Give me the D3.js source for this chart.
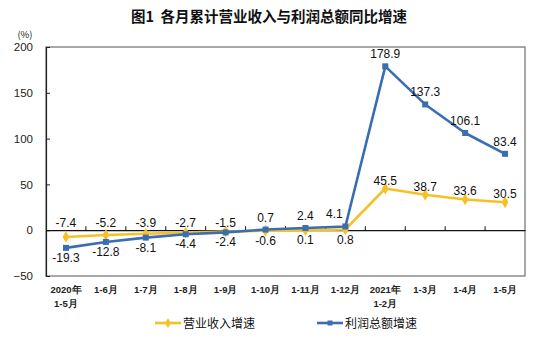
<!DOCTYPE html>
<html>
<head>
<meta charset="utf-8">
<script src="https://cdn.jsdelivr.net/npm/d3@7"></script>
<style>
  html, body { margin: 0; padding: 0; background: #fff; }
  svg { display: block; }
  text { font-family: "Liberation Sans", Arial, sans-serif; }
  .cjk { font-family: "Noto Sans CJK SC", "Noto Sans", sans-serif; }
</style>
</head>
<body>
<svg id="chart" width="539" height="340"></svg>
<script>
// Cumulative monthly growth, year on year (%)
const categories = [
  ["2020年", "1-5月"], ["1-6月"], ["1-7月"], ["1-8月"], ["1-9月"], ["1-10月"],
  ["1-11月"], ["1-12月"], ["2021年", "1-2月"], ["1-3月"], ["1-4月"], ["1-5月"]
];
const revenueGrowth = [-7.4, -5.2, -3.9, -2.7, -1.5, -0.6, 0.1, 0.8, 45.5, 38.7, 33.6, 30.5];
const profitGrowth  = [-19.3, -12.8, -8.1, -4.4, -2.4, 0.7, 2.4, 4.1, 178.9, 137.3, 106.1, 83.4];
const yTicks = [-50, 0, 50, 100, 150, 200];
const seriesNames = ["营业收入增速", "利润总额增速"];

const svg = d3.select("#chart");
const plot = { left: 46, right: 525, top: 47, bottom: 276 };

const x = d3.scaleBand()
  .domain(d3.range(categories.length))
  .range([plot.left, plot.right])
  .paddingInner(0).paddingOuter(0);
const cx = i => x(i) + x.bandwidth() / 2;

const y = d3.scaleLinear().domain([-50, 200]).range([plot.bottom, plot.top]);
const zeroY = y(0);

// Title
svg.append("text")
  .attr("class", "cjk")
  .attr("x", 269).attr("y", 22)
  .attr("text-anchor", "middle")
  .attr("font-size", 14.5).attr("font-weight", "bold")
  .attr("fill", "#111")
  .text("图1\u00a0\u00a0各月累计营业收入与利润总额同比增速");

// Plot frame
svg.append("rect")
  .attr("x", plot.left).attr("y", plot.top)
  .attr("width", plot.right - plot.left).attr("height", plot.bottom - plot.top)
  .attr("fill", "none").attr("stroke", "#7a7a7a").attr("stroke-width", 1.3);

// Y axis with inside ticks
const yAxis = d3.axisLeft(y).tickValues(yTicks).tickSize(-4).tickPadding(13).tickFormat(d3.format("d"));
const yg = svg.append("g").attr("transform", `translate(${plot.left},0)`).call(yAxis);
yg.select(".domain").attr("stroke", "#222").attr("stroke-width", 1.2);
yg.selectAll(".tick line").attr("stroke", "#222");
yg.selectAll(".tick text")
  .attr("x", -13)
  .attr("font-size", 11.5).attr("fill", "#222")
  .style("font-stretch", "condensed");

svg.append("text")
  .attr("class", "cjk")
  .attr("x", 25).attr("y", 38)
  .attr("text-anchor", "middle")
  .attr("font-size", 9.5).attr("fill", "#222")
  .text("(%)");

// Zero line with category ticks pointing up
const xAxis = d3.axisTop(x).tickSize(4).tickFormat("").tickSizeOuter(0);
const xg = svg.append("g").attr("transform", `translate(0,${zeroY})`).call(xAxis);
xg.select(".domain").attr("stroke", "#111").attr("stroke-width", 1.2);
xg.selectAll(".tick").attr("transform", (d) => `translate(${x(d)},0)`);
xg.selectAll(".tick line").attr("stroke", "#111");
xg.selectAll(".tick").filter(d => d === 0).remove();

// Category labels below the frame
const catG = svg.append("g").attr("class", "cjk");
categories.forEach((lines, i) => {
  lines.forEach((t, j) => {
    catG.append("text")
      .attr("x", cx(i)).attr("y", 293 + j * 14)
      .attr("text-anchor", "middle")
      .attr("font-size", 9.5).attr("font-weight", "bold").attr("fill", "#222")
      .text(t);
  });
});

const series = [
  { name: seriesNames[0], values: revenueGrowth, color: "#f7c126", marker: "diamond", other: profitGrowth, aboveGap: 4 },
  { name: seriesNames[1], values: profitGrowth, color: "#3b6db2", marker: "square", other: revenueGrowth, aboveGap: 8 }
];

const line = d3.line().x((d, i) => cx(i)).y(d => y(d));

series.forEach(s => {
  svg.append("path")
    .datum(s.values)
    .attr("d", line)
    .attr("fill", "none")
    .attr("stroke", s.color)
    .attr("stroke-width", 2.6)
    .attr("stroke-linejoin", "round");

  const sym = d3.symbol()
    .type(s.marker === "square" ? d3.symbolSquare : d3.symbolDiamond)
    .size(s.marker === "square" ? 36 : 40);
  svg.append("g").selectAll("path")
    .data(s.values)
    .join("path")
    .attr("transform", (d, i) => `translate(${cx(i)},${y(d)})`)
    .attr("d", sym)
    .attr("fill", s.color);
});

// Value labels: below when the other line sits just above this point;
// nudged left where the line climbs steeply to the next point
series.forEach(s => {
  svg.append("g").selectAll("text")
    .data(s.values)
    .join("text")
    .attr("x", (d, i) => {
      const next = s.values[i + 1];
      const steep = next !== undefined && (y(d) - y(next)) > 60;
      return cx(i) - (steep ? 11 : 0);
    })
    .attr("y", (d, i) => {
      const py = y(d), oy = y(s.other[i]);
      const below = oy < py && (py - oy) < 25;
      return below ? Math.max(py, zeroY) + 14 : Math.min(py - s.aboveGap, zeroY - 3);
    })
    .attr("text-anchor", "middle")
    .attr("font-size", 12).attr("fill", "#111")
    .text(d => d.toFixed(1));
});

// Legend
const legend = svg.append("g");
const legendItems = [
  { s: series[0], x0: 155 },
  { s: series[1], x0: 317 }
];
legendItems.forEach(({ s, x0 }) => {
  legend.append("line")
    .attr("x1", x0).attr("x2", x0 + 26)
    .attr("y1", 323).attr("y2", 323)
    .attr("stroke", s.color).attr("stroke-width", 2.6);
  legend.append("path")
    .attr("transform", `translate(${x0 + 13},323)`)
    .attr("d", d3.symbol().type(s.marker === "square" ? d3.symbolSquare : d3.symbolDiamond)
      .size(s.marker === "square" ? 25 : 30))
    .attr("fill", s.color);
  legend.append("text")
    .attr("class", "cjk")
    .attr("x", x0 + 28).attr("y", 327.5)
    .attr("font-size", 12).attr("fill", "#111")
    .text(s.name);
});
</script>
</body>
</html>
